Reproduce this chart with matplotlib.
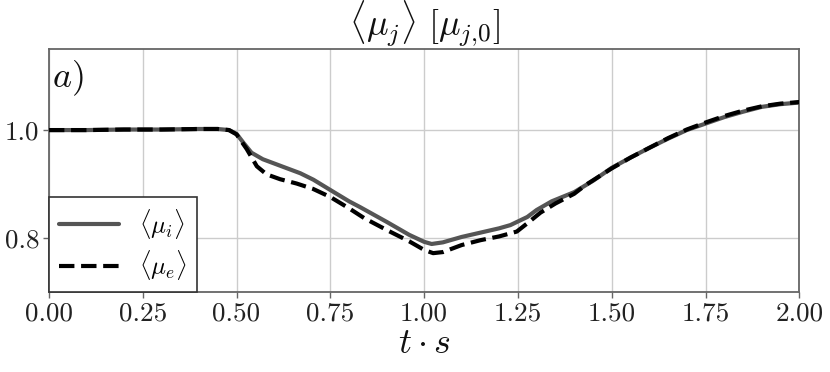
import matplotlib
matplotlib.use("Agg")
import matplotlib.pyplot as plt

plt.rcParams['font.family'] = 'serif'
plt.rcParams['font.serif'] = ['cmr10']
plt.rcParams['mathtext.fontset'] = 'cm'
plt.rcParams['axes.unicode_minus'] = False
plt.rcParams['axes.formatter.use_mathtext'] = True

t_i = [0.0, 0.1, 0.2, 0.3, 0.4, 0.45, 0.48, 0.50, 0.52, 0.54, 0.57, 0.62, 0.67, 0.705,
       0.75, 0.80, 0.83, 0.90, 0.96, 1.00, 1.02, 1.05, 1.10, 1.15, 1.20, 1.23, 1.275,
       1.30, 1.34, 1.40, 1.45, 1.50, 1.55, 1.60, 1.65, 1.70, 1.75, 1.80, 1.85, 1.90,
       1.95, 2.00]
mu_i = [1.000, 1.000, 1.001, 1.001, 1.002, 1.002, 1.000, 0.993, 0.975, 0.958, 0.946,
        0.933, 0.920, 0.908, 0.889, 0.868, 0.857, 0.830, 0.806, 0.793, 0.789, 0.792,
        0.802, 0.810, 0.818, 0.824, 0.839, 0.852, 0.868, 0.885, 0.906, 0.930, 0.949,
        0.967, 0.984, 1.000, 1.012, 1.024, 1.034, 1.043, 1.048, 1.051]

t_e = [0.0, 0.1, 0.2, 0.3, 0.4, 0.45, 0.48, 0.50, 0.527, 0.554, 0.58, 0.616, 0.66,
       0.704, 0.75, 0.80, 0.84, 0.90, 0.96, 1.00, 1.024, 1.05, 1.10, 1.15, 1.20, 1.247,
       1.28, 1.31, 1.35, 1.40, 1.43, 1.50, 1.55, 1.60, 1.65, 1.70, 1.75, 1.80, 1.85,
       1.90, 1.95, 2.00]
mu_e = [1.000, 1.000, 1.001, 1.001, 1.002, 1.002, 1.000, 0.992, 0.965, 0.933, 0.918,
        0.909, 0.901, 0.891, 0.876, 0.855, 0.837, 0.815, 0.794, 0.778, 0.772, 0.774,
        0.787, 0.796, 0.803, 0.812, 0.830, 0.847, 0.864, 0.882, 0.898, 0.929, 0.949,
        0.967, 0.985, 1.001, 1.014, 1.026, 1.036, 1.044, 1.049, 1.052]

xticks = [0.0, 0.25, 0.5, 0.75, 1.0, 1.25, 1.5, 1.75, 2.0]
yticks = [0.8, 1.0]

fig = plt.figure(figsize=(8.3, 3.72), dpi=100)
ax = fig.add_axes([0.059, 0.215, 0.904, 0.653])

ax.plot(t_i, mu_i, color='#555555', lw=3.0, solid_capstyle='round', label=r'$\langle\mu_i\rangle$', zorder=3)
ax.plot(t_e, mu_e, color='black', lw=3.0, ls='--', label=r'$\langle\mu_e\rangle$', zorder=4)

ax.set_xlim(0, 2.0)
ax.set_ylim(0.70, 1.15)
ax.set_xticks(xticks)
ax.set_xticklabels(['%.2f' % v for v in xticks])
ax.set_yticks(yticks)
ax.set_yticklabels(['%.1f' % v for v in yticks])
ax.grid(True, color='#cccccc', lw=1.0)
ax.set_axisbelow(True)
for s in ax.spines.values():
    s.set_color('#666666')
    s.set_linewidth(1.3)
ax.tick_params(labelsize=19.5, color='#666666', labelcolor='#222222', length=4, width=1.0, pad=3)

ax.set_xlabel(r'$t\cdot s$', fontsize=26, labelpad=2, color='#111111')
ax.set_title(r'$\langle\mu_j\rangle\ [\mu_{j{,}0}]$', fontsize=26, pad=4, color='#111111')
ax.text(0.004, 0.96, r'$a)$', transform=ax.transAxes, fontsize=26, va='top', ha='left', color='#111111')

leg = ax.legend(loc='lower left', fontsize=18, fancybox=False, edgecolor='#333333',
                borderaxespad=0, handlelength=2.4, labelspacing=0.3, framealpha=1)
leg.get_frame().set_linewidth(1.2)

fig.savefig('out.png', dpi=100)
